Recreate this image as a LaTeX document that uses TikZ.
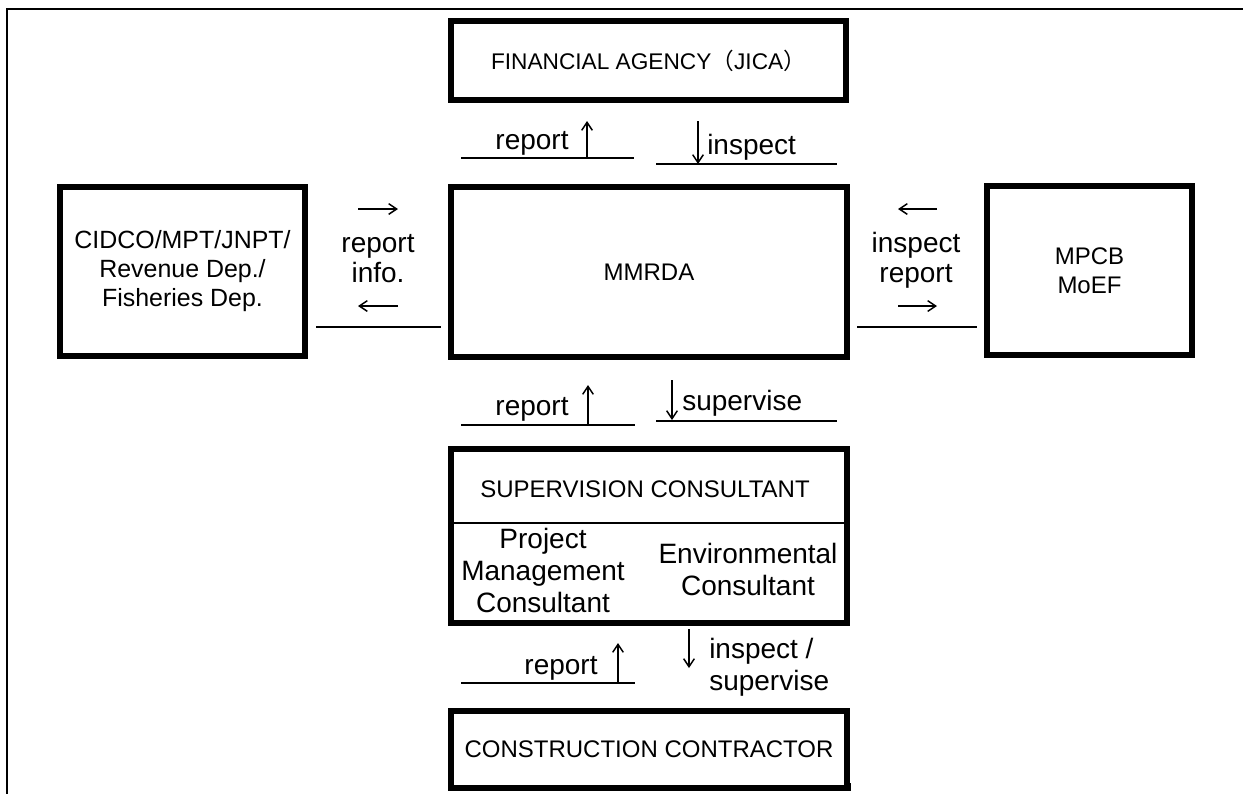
\documentclass[tikz,border=0pt]{standalone}
\usepackage{fontspec}
\setmainfont{Liberation Sans}
\newfontfamily\cjkfont{Noto Sans CJK JP}
\usetikzlibrary{arrows.meta}
\newdimen\pxu \pxu=0.75pt
\begin{document}
\begin{tikzpicture}[x=0.75pt,y=-0.75pt,
  box/.style={draw,line width=4.2pt,rectangle,inner sep=0pt,align=center,
    font=\fontsize{18}{21.75}\selectfont},
  boxtxt/.style={inner sep=0pt,font=\fontsize{18}{21.75}\selectfont},
  lbl/.style={inner sep=0pt,font=\fontsize{21}{24}\selectfont},
  inner/.style={inner sep=0pt,align=center,font=\fontsize{21}{24}\selectfont},
  uline/.style={line width=1.5pt},
  garrow/.style={line width=1.1pt,-{Straight Barb[length=6pt,width=8pt]}},
]
\useasboundingbox (0,0) rectangle (1243,794);
\draw[line width=1.5pt] (1243,9) -- (7,9) -- (7,794);

% boxes
\node[box,minimum width=395\pxu,minimum height=79\pxu,font=\fontsize{17}{20}\selectfont]
  (jica) at (648.5,60.5) {FINANCIAL AGENCY{\cjkfont （}JICA{\cjkfont ）}};
\node[box,minimum width=396\pxu,minimum height=170\pxu] (mmrda) at (649,272) {MMRDA};
\node[box,minimum width=245\pxu,minimum height=169\pxu,font=\fontsize{18.7}{21.75}\selectfont]
  (cidco) at (182.5,271.5) {CIDCO/MPT/JNPT/\\Revenue Dep./\\Fisheries Dep.};
\node[box,minimum width=205\pxu,minimum height=169\pxu] (mpcb) at (1089.5,270.5) {MPCB\\MoEF};
\node[box,minimum width=396\pxu,minimum height=174\pxu] (sup) at (649,536) {};
\coordinate (divy) at (0,523);
\draw[line width=1.5pt] (sup.west |- divy) -- (sup.east |- divy);
\node[boxtxt,anchor=base] (supT) at (645,497) {SUPERVISION CONSULTANT};
\node[inner] (pmc) at (543,570) {Project\\Management\\Consultant};
\node[inner] (envc) at (748,569) {Environmental\\Consultant};
\node[box,minimum width=396\pxu,minimum height=77\pxu] (cons) at (649,749.5) {CONSTRUCTION CONTRACTOR};
\draw[line width=4.2pt] (cons.south west) ++(2.1\pxu,0) -- ++(0,-8);
\draw[line width=4.2pt] (cons.south east) ++(-2.1\pxu,0) -- ++(0,-8);

% JICA - MMRDA labels
\draw[uline] (461,158) -- (634,158);
\node[lbl,anchor=base] (rep1) at (532,149) {report};
\draw[garrow] (587,158) -- (587,121);
\draw[uline] (656,164) -- (837,164);
\draw[garrow] (698,121) -- (698,164);
\node[lbl,anchor=base west] (insp1) at (707,154) {inspect};

% CIDCO - MMRDA labels
\draw[garrow] (358,209) -- (398,209);
\node[lbl,anchor=base] (rep2) at (378,252) {report};
\node[lbl,anchor=base] (info) at (378,282) {info.};
\draw[garrow] (398,306) -- (358,306);
\draw[uline] (316,327) -- (441,327);

% MMRDA - MPCB labels
\draw[garrow] (937,209) -- (898,209);
\node[lbl,anchor=base] (insp2) at (916,252) {inspect};
\node[lbl,anchor=base] (rep3) at (916,282) {report};
\draw[garrow] (898,306) -- (937,306);
\draw[uline] (857,327) -- (977,327);

% MMRDA - SUP labels
\draw[uline] (461,425) -- (635,425);
\node[lbl,anchor=base] (rep4) at (532,415) {report};
\draw[garrow] (588,425) -- (588,385);
\draw[uline] (656,421) -- (837,421);
\draw[garrow] (672,380) -- (672,420);
\node[lbl,anchor=base west] (supv1) at (682,410) {supervise};

% SUP - CONS labels
\draw[uline] (461,683) -- (635,683);
\node[lbl,anchor=base] (rep5) at (561,674) {report};
\draw[garrow] (618,683) -- (618,643);
\draw[garrow] (689,629) -- (689,668);
\node[lbl,anchor=base west] (insp3) at (709,658) {inspect /};
\node[lbl,anchor=base west] (supv2) at (709,690) {supervise};
\end{tikzpicture}
\end{document}
